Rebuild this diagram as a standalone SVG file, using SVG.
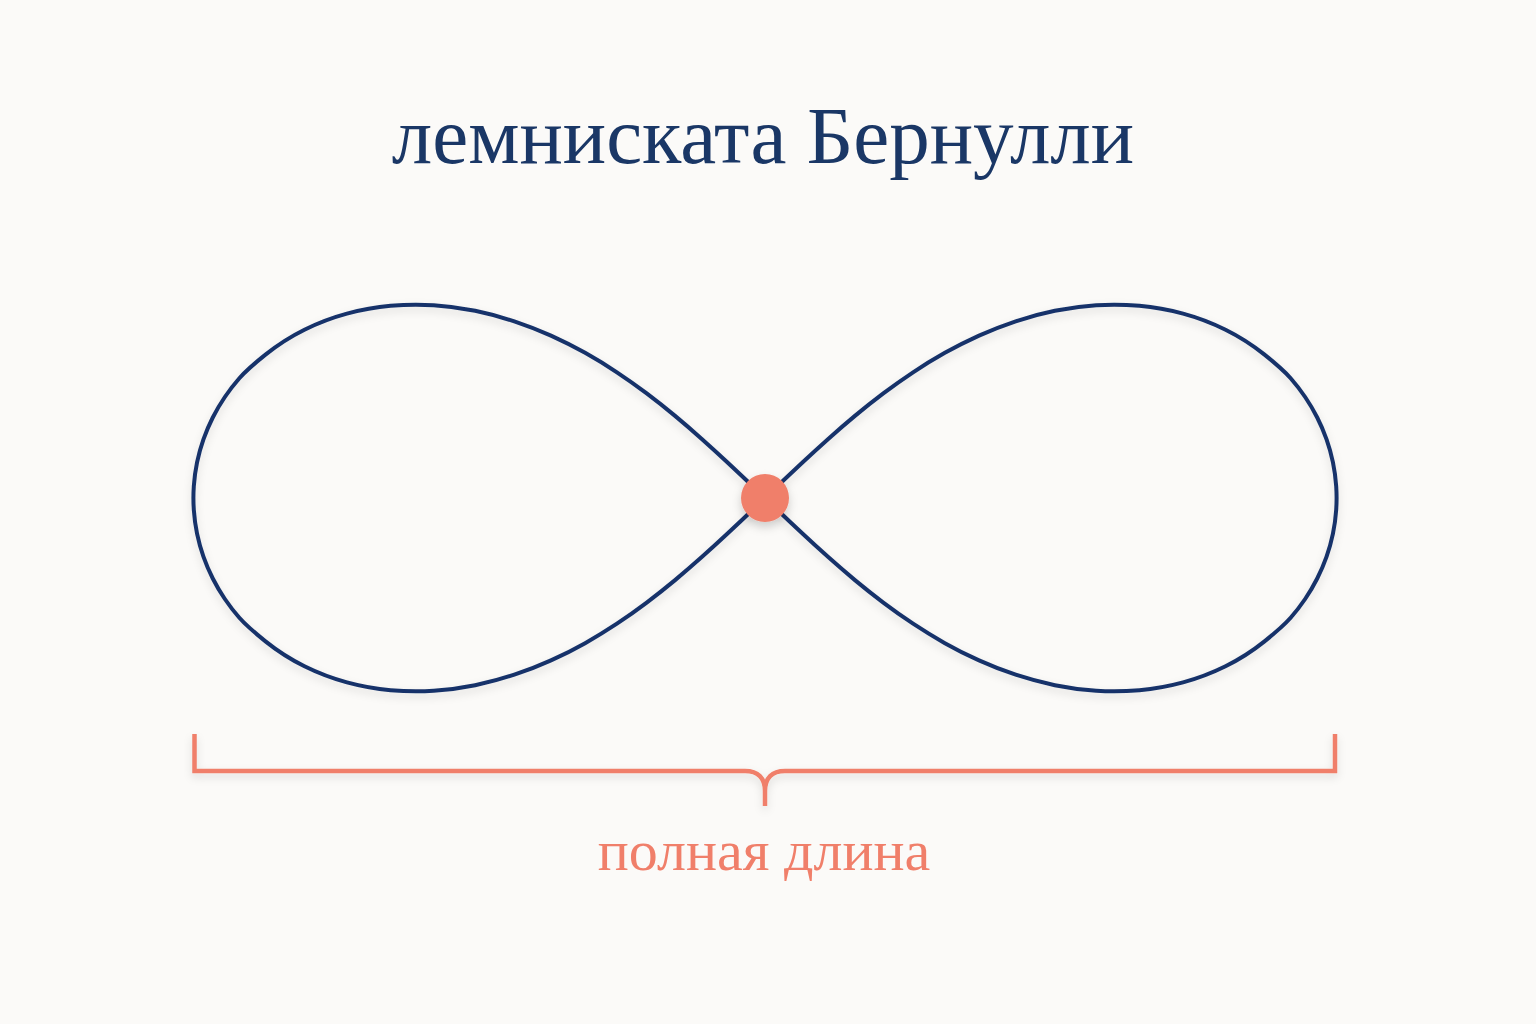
<svg xmlns="http://www.w3.org/2000/svg" width="1536" height="1024" viewBox="0 0 1536 1024">
  <defs>
    <filter id="sh" x="-10%" y="-10%" width="120%" height="130%">
      <feDropShadow dx="0" dy="4" stdDeviation="4" flood-color="#000" flood-opacity="0.12"/>
    </filter>
    <filter id="shd" x="-50%" y="-50%" width="200%" height="200%">
      <feDropShadow dx="0" dy="5" stdDeviation="5" flood-color="#000" flood-opacity="0.18"/>
    </filter>
  </defs>
  <style>
    .title { font-family: "Liberation Serif", "Times New Roman", serif; font-size: 81px; fill: #1A3766; }
    .label { font-family: "Liberation Serif", "Times New Roman", serif; font-size: 58px; fill: #F07F6A; }
    .curve { fill: none; stroke: #17336A; stroke-width: 4; stroke-linejoin: round; }
    .brace { fill: none; stroke: #F07F6A; stroke-width: 4.5; stroke-linecap: butt; stroke-linejoin: miter; }
  </style>
  <rect width="1536" height="1024" fill="#FBFAF8"/>
  <g id="title">
    <text class="title" x="763" y="163" text-anchor="middle">лемниската Бернулли</text>
  </g>
  <g id="connectors">
    <path id="lemniscate" class="curve" filter="url(#sh)" d="M1336.185,486.06 Q1335.37,474.12 1332.945,462.40 Q1330.52,450.68 1326.565,439.405 Q1322.61,428.13 1317.215,417.485 Q1311.82,406.84 1305.135,397.00 Q1298.45,387.16 1290.635,378.25 Q1282.82,369.34 1264.515,354.67 Q1246.21,340.00 1225.53,329.775 Q1204.85,319.55 1183.075,313.67 Q1161.30,307.79 1139.435,305.83 Q1117.57,303.87 1096.315,305.265 Q1075.06,306.66 1054.855,310.81 Q1034.65,314.96 1015.68,321.28 Q996.71,327.60 979.025,335.60 Q961.34,343.60 944.885,352.865 Q928.43,362.13 913.075,372.325 Q897.72,382.52 883.305,393.40 Q868.89,404.28 855.24,415.63 Q841.59,426.98 828.505,438.655 Q815.42,450.33 802.72,462.20 Q790.02,474.07 777.51,486.035 Q765,498 752.49,509.965 Q739.98,521.93 727.28,533.80 Q714.58,545.67 701.495,557.345 Q688.41,569.02 674.76,580.37 Q661.11,591.72 646.695,602.60 Q632.28,613.48 616.925,623.675 Q601.57,633.87 585.115,643.135 Q568.66,652.40 550.975,660.40 Q533.29,668.40 514.32,674.72 Q495.35,681.04 475.145,685.19 Q454.94,689.34 433.685,690.735 Q412.43,692.13 390.565,690.17 Q368.70,688.21 346.925,682.33 Q325.15,676.45 304.47,666.225 Q283.79,656.00 265.485,641.33 Q247.18,626.66 239.365,617.75 Q231.55,608.84 224.865,599.00 Q218.18,589.16 212.785,578.515 Q207.39,567.87 203.435,556.595 Q199.48,545.32 197.055,533.60 Q194.63,521.88 193.815,509.94 Q193,498 193.815,486.06 Q194.63,474.12 197.055,462.40 Q199.48,450.68 203.435,439.405 Q207.39,428.13 212.785,417.485 Q218.18,406.84 224.865,397.00 Q231.55,387.16 239.365,378.25 Q247.18,369.34 265.485,354.67 Q283.79,340.00 304.47,329.775 Q325.15,319.55 346.925,313.67 Q368.70,307.79 390.565,305.83 Q412.43,303.87 433.685,305.265 Q454.94,306.66 475.145,310.81 Q495.35,314.96 514.32,321.28 Q533.29,327.60 550.975,335.60 Q568.66,343.60 585.115,352.865 Q601.57,362.13 616.925,372.325 Q632.28,382.52 646.695,393.40 Q661.11,404.28 674.76,415.63 Q688.41,426.98 701.495,438.655 Q714.58,450.33 727.28,462.20 Q739.98,474.07 752.49,486.035 Q765,498 777.51,509.965 Q790.02,521.93 802.72,533.80 Q815.42,545.67 828.505,557.345 Q841.59,569.02 855.24,580.37 Q868.89,591.72 883.305,602.60 Q897.72,613.48 913.075,623.675 Q928.43,633.87 944.885,643.135 Q961.34,652.40 979.025,660.40 Q996.71,668.40 1015.68,674.72 Q1034.65,681.04 1054.855,685.19 Q1075.06,689.34 1096.315,690.735 Q1117.57,692.13 1139.435,690.17 Q1161.30,688.21 1183.075,682.33 Q1204.85,676.45 1225.53,666.225 Q1246.21,656.00 1264.515,641.33 Q1282.82,626.66 1290.635,617.75 Q1298.45,608.84 1305.135,599.00 Q1311.82,589.16 1317.215,578.515 Q1322.61,567.87 1326.565,556.595 Q1330.52,545.32 1332.945,533.60 Q1335.37,521.88 1336.185,509.94 Q1337,498 1336.185,486.06 Z"/>
    <path id="brace" class="brace" filter="url(#sh)" d="M194.5,734 V771 H745 C758,771 765,778 765,791 V806 M1335,734 V771 H785 C772,771 765,778 765,791"/>
  </g>
  <g id="origin">
    <circle cx="765" cy="498" r="24" fill="#F07F6A" filter="url(#shd)"/>
  </g>
  <g id="length-label">
    <text class="label" x="764" y="870" text-anchor="middle">полная длина</text>
  </g>
</svg>
